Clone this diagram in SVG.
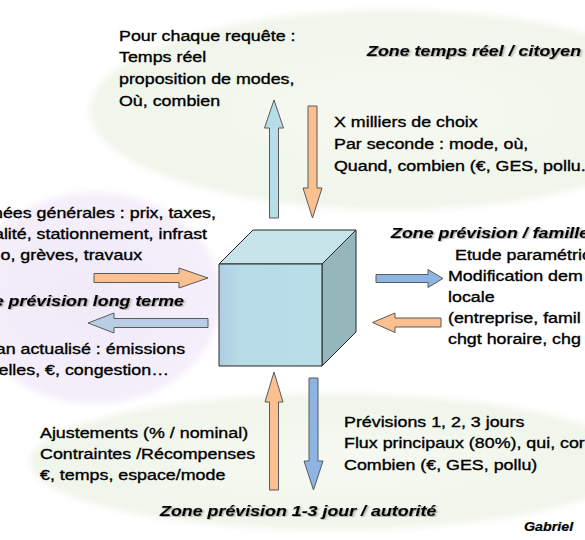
<svg xmlns="http://www.w3.org/2000/svg" width="585" height="540" viewBox="0 0 585 540">
<style>
.t{font-family:"Liberation Sans",Arial,Helvetica,sans-serif;font-size:15px;fill:#000;stroke:#000;stroke-width:0.35px}
.z{font-weight:bold;font-style:italic;stroke-width:0.2px}
.ar{stroke:#5a5a5a;stroke-width:1;stroke-linejoin:miter}
.or{fill:#FAC090}
.cy{fill:#B7DDE8}
.bl{fill:#8DB4E2}
.gb{fill:#B9CDE5}
.cube{stroke:#262626;stroke-width:1;stroke-linejoin:round}
</style>
<defs>
<filter id="sh" x="-5%" y="-30%" width="110%" height="160%">
<feDropShadow dx="1" dy="1" stdDeviation="0.7" flood-color="#777" flood-opacity="0.6"/>
</filter>
<filter id="soft" x="-10%" y="-10%" width="120%" height="120%">
<feGaussianBlur stdDeviation="3"/>
</filter>
<radialGradient id="gGreen" cx="0.5" cy="0.5" r="0.5">
<stop offset="0" stop-color="#F6F9F2"/>
<stop offset="1" stop-color="#F0F6EA"/>
</radialGradient>
<radialGradient id="gLav" cx="0.45" cy="0.5" r="0.5">
<stop offset="0" stop-color="#F1EAF9"/>
<stop offset="1" stop-color="#F4EFFA"/>
</radialGradient>
<linearGradient id="gFront" x1="0" y1="0" x2="1" y2="0">
<stop offset="0" stop-color="#AFCDE4"/>
<stop offset="0.2" stop-color="#B7DCE7"/>
<stop offset="1" stop-color="#B8DEE8"/>
</linearGradient>
</defs>
<rect width="585" height="540" fill="#FFFFFF"/>
<g id="background" filter="url(#soft)">
<ellipse cx="392" cy="110" rx="302" ry="100" fill="url(#gGreen)"/>
<ellipse cx="95" cy="298" rx="126" ry="106" fill="url(#gLav)"/>
<ellipse cx="332" cy="462" rx="302" ry="68" fill="url(#gGreen)"/>
</g>
<g id="cube">
<polygon class="cube" points="219,264 253,230 356,230 322,264" fill="#C6E4EA"/>
<polygon class="cube" points="322,264 356,230 356,332 322,366" fill="#95B7BC"/>
<rect class="cube" x="219" y="264" width="103" height="102" fill="url(#gFront)"/>
</g>
<g id="connectors" class="ar">
<polygon class="ar cy" points="269.5,218 269.5,128 264.5,128 274,100 283.5,128 278.5,128 278.5,218"/>
<polygon class="ar or" points="308,106 317,106 317,188 322,188 312.5,218 303,188 308,188"/>
<polygon class="ar or" points="94,273.5 179,273.5 179,268 208,278 179,288 179,282.5 94,282.5"/>
<polygon class="ar gb" points="208,318.5 114,318.5 114,313 88,323 114,333 114,327.5 208,327.5"/>
<polygon class="ar bl" points="376,274.5 428,274.5 428,269.5 443,278.5 428,287.5 428,282.5 376,282.5"/>
<polygon class="ar or" points="441,318 395,318 395,313 372.5,322.5 395,332.5 395,327 441,327"/>
<polygon class="ar or" points="269.5,490 269.5,402 265,402 274,372 283,402 278.5,402 278.5,490"/>
<polygon class="ar bl" points="309,378 318,378 318,461 323,461 313.5,490 304,461 309,461"/>
</g>
<g id="zone-temps-reel">
<text class="t" transform="translate(119 40.5) scale(1.19 1)"><tspan x="0" y="0">Pour chaque requête :</tspan><tspan x="0" y="22">Temps réel</tspan><tspan x="0" y="44">proposition de modes,</tspan><tspan x="0" y="66">Où, combien</tspan></text>
<text class="t z" filter="url(#sh)" transform="translate(367 56) scale(1.19 1)">Zone temps réel / citoyen</text>
<text class="t" transform="translate(334 127) scale(1.19 1)"><tspan x="0" y="0">X milliers de choix</tspan><tspan x="0" y="22">Par seconde : mode, où,</tspan><tspan x="0" y="44">Quand, combien (€, GES, pollu.</tspan></text>
</g>
<g id="zone-long-terme">
<text class="t" text-anchor="end" transform="translate(0 217.5) scale(1.19 1)"><tspan x="181.5" y="0">nées générales : prix, taxes,</tspan><tspan x="174" y="21.5">alité, stationnement, infrast</tspan><tspan x="119.5" y="43">o, grèves, travaux</tspan></text>
<text class="t z" filter="url(#sh)" text-anchor="end" transform="translate(184 305.5) scale(1.19 1)">e prévision long terme</text>
<text class="t" text-anchor="end" transform="translate(0 354) scale(1.19 1)"><tspan x="155.5" y="0">an actualisé : émissions</tspan><tspan x="142" y="21">elles, €, congestion…</tspan></text>
</g>
<g id="zone-famille">
<text class="t z" filter="url(#sh)" transform="translate(391 238) scale(1.19 1)">Zone prévision / famille</text>
<text class="t" transform="translate(448 260) scale(1.19 1)"><tspan x="5.9" y="0">Etude paramétric</tspan><tspan x="0" y="21">Modification dem</tspan><tspan x="0" y="42">locale</tspan><tspan x="0" y="63.5">(entreprise, famil</tspan><tspan x="0" y="84.5">chgt horaire, chg</tspan></text>
</g>
<g id="zone-autorite">
<text class="t" transform="translate(40 438) scale(1.19 1)"><tspan x="0" y="0">Ajustements (% / nominal)</tspan><tspan x="0" y="21">Contraintes /Récompenses</tspan><tspan x="0" y="42">€, temps, espace/mode</tspan></text>
<text class="t" transform="translate(344 427) scale(1.19 1)"><tspan x="0" y="0">Prévisions 1, 2, 3 jours</tspan><tspan x="0" y="21.5">Flux principaux (80%), qui, cor</tspan><tspan x="0" y="43">Combien (€, GES, pollu)</tspan></text>
<text class="t z" filter="url(#sh)" transform="translate(160 516) scale(1.19 1)">Zone prévision 1-3 jour / autorité</text>
</g>
<g id="author">
<text class="t z" style="font-size:12px" transform="translate(524 531) scale(1.19 1)">Gabriel</text>
</g>
</svg>
